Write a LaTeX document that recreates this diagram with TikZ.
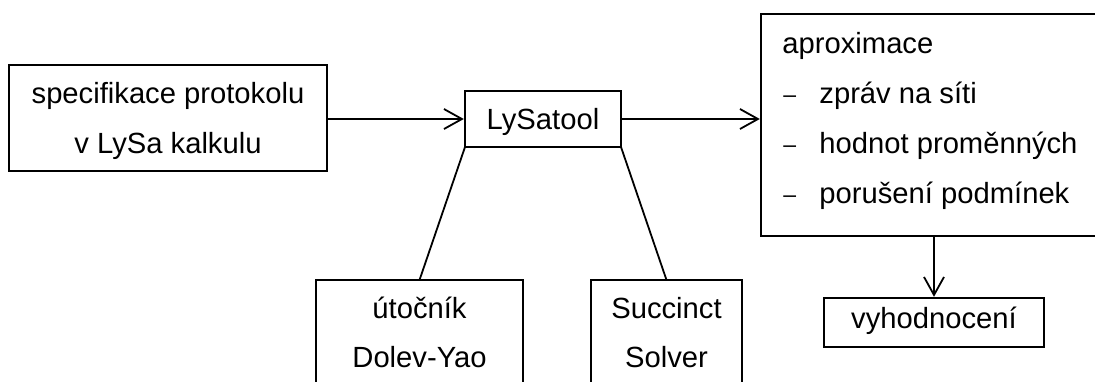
\documentclass[tikz,border=0pt]{standalone}
\usepackage{fontspec}
\setmainfont{Liberation Sans}
\usetikzlibrary{arrows.meta}
\begin{document}
\begin{tikzpicture}[x=0.5pt,y=-0.5pt,
  frame/.style={draw, line width=0.9pt, inner sep=0pt, outer sep=0pt},
  txt/.style={anchor=base, inner sep=0pt, font=\fontsize{14.6}{17}\selectfont},
  txtl/.style={anchor=base west, inner sep=0pt, font=\fontsize{14.6}{17}\selectfont},
  dashmark/.style={anchor=base west, inner sep=0pt, font=\fontsize{11.5}{14}\selectfont},
  link/.style={line width=0.9pt},
  flow/.style={line width=0.9pt, -{Straight Barb[length=9pt,width=10pt,line width=0.9pt]}, shorten >=0.6pt}]
\useasboundingbox (0,0) rectangle (1095,381);
\clip (0,0) rectangle (1095,381);

% input specification
\node[frame, minimum width=159pt, minimum height=53pt] (spec) at (168,118) {};
\node[txt] (spec1) at (168,103) {specifikace protokolu};
\node[txt] (spec2) at (168,153) {v LySa kalkulu};

% the tool
\node[frame, minimum width=78pt, minimum height=28pt] (lysa) at (543,119) {};
\node[txt] (lysa1) at (543,129) {LySatool};

% attacker model and solver
\node[frame, minimum width=103.5pt, minimum height=53pt] (dolev) at (419.5,333) {};
\node[txt] (dolev1) at (419.5,318) {útočník};
\node[txt] (dolev2) at (419.5,367) {Dolev-Yao};

\node[frame, minimum width=75.5pt, minimum height=53pt] (solver) at (666.5,333) {};
\node[txt] (solver1) at (666.5,318) {Succinct};
\node[txt] (solver2) at (666.5,367) {Solver};

% output approximation
\node[frame, minimum width=173pt, minimum height=111pt] (approx) at (934,125) {};
\node[txtl] (ap0) at (782,53) {aproximace};
\node[dashmark] (d1) at (783,102) {–};
\node[dashmark] (d2) at (783,152) {–};
\node[dashmark] (d3) at (783,202) {–};
\node[txtl] (ap1) at (819,103) {zpráv na síti};
\node[txtl] (ap2) at (819,153) {hodnot proměnných};
\node[txtl] (ap3) at (819,203) {porušení podmínek};

% evaluation
\node[frame, minimum width=110pt, minimum height=24.5pt] (eval) at (934,322.5) {};
\node[txt] (eval1) at (934,328) {vyhodnocení};

% connectors
\draw[flow] (spec.east |- lysa.west) -- (lysa.west);
\draw[flow] (lysa.east) -- (lysa.east -| approx.west);
\draw[flow] (approx.south) -- (eval.north);
\draw[link] (lysa.south west) -- (dolev.north);
\draw[link] (lysa.south east) -- (solver.north);
\end{tikzpicture}
\end{document}
